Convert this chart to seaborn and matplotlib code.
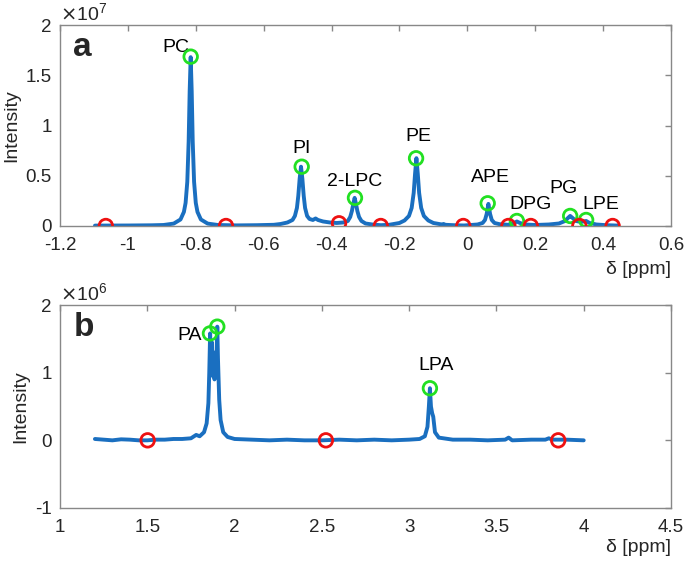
import numpy as np
import pandas as pd
import seaborn as sns
import matplotlib.pyplot as plt

sns.set_theme(style="white")
plt.rcParams['font.family'] = ['Liberation Sans', 'DejaVu Sans']

# panel a: spectrum, intensity in units of 1e7
shift_a = [-1.097, -1.0, -0.93, -0.895, -0.865, -0.845, -0.835, -0.83, -0.825, -0.821,
           -0.818, -0.815, -0.812, -0.809, -0.805, -0.80, -0.795, -0.785, -0.765, -0.735,
           -0.68, -0.62, -0.57, -0.55, -0.53, -0.515, -0.508, -0.502, -0.498, -0.494,
           -0.49, -0.486, -0.482, -0.478, -0.472, -0.465, -0.455, -0.447, -0.44, -0.425,
           -0.405, -0.385, -0.365, -0.352, -0.345, -0.34, -0.336, -0.332, -0.328, -0.324,
           -0.319, -0.312, -0.30, -0.28, -0.255, -0.23, -0.20, -0.185, -0.172, -0.164,
           -0.158, -0.154, -0.15, -0.146, -0.142, -0.136, -0.128, -0.115, -0.10, -0.075,
           -0.07, -0.065, -0.04, -0.01, 0.03, 0.045, 0.052, 0.057, 0.062, 0.067,
           0.072, 0.08, 0.095, 0.12, 0.135, 0.146, 0.155, 0.17, 0.20, 0.24,
           0.27, 0.288, 0.298, 0.303, 0.31, 0.32, 0.335, 0.35, 0.36, 0.38,
           0.41, 0.444]
int_a = [0.004, 0.005, 0.007, 0.01, 0.024, 0.065, 0.14, 0.23, 0.44, 0.84,
         1.34, 1.68, 1.34, 0.84, 0.44, 0.23, 0.14, 0.065, 0.024, 0.01,
         0.006, 0.008, 0.012, 0.02, 0.035, 0.06, 0.10, 0.18, 0.30, 0.47,
         0.59, 0.47, 0.30, 0.18, 0.10, 0.07, 0.06, 0.075, 0.06, 0.045,
         0.035, 0.03, 0.035, 0.05, 0.09, 0.15, 0.22, 0.28, 0.22, 0.15,
         0.09, 0.05, 0.025, 0.015, 0.008, 0.012, 0.03, 0.055, 0.10, 0.18,
         0.33, 0.52, 0.675, 0.52, 0.33, 0.18, 0.10, 0.055, 0.03, 0.015,
         0.02, 0.012, 0.008, 0.005, 0.015, 0.03, 0.06, 0.12, 0.22, 0.12,
         0.06, 0.03, 0.018, 0.012, 0.025, 0.045, 0.03, 0.015, 0.01, 0.015,
         0.025, 0.05, 0.085, 0.10, 0.08, 0.05, 0.04, 0.05, 0.03, 0.015,
         0.008, 0.004]
peaks_a = [-0.815, -0.488, -0.331, -0.151, 0.060, 0.146, 0.303, 0.350]
peak_int_a = [1.685, 0.59, 0.28, 0.674, 0.226, 0.05, 0.10, 0.06]
names_a = ['PC', 'PI', '2-LPC', 'PE', 'APE', 'DPG', 'PG', 'LPE']
lab_x_a = [-0.858, -0.487, -0.331, -0.145, 0.067, 0.185, 0.282, 0.394]
lab_y_a = [1.78, 0.776, 0.438, 0.886, 0.478, 0.209, 0.378, 0.209]
base_a = [-1.065, -0.711, -0.378, -0.255, -0.012, 0.121, 0.187, 0.330, 0.428]
base_int_a = [0.0, 0.0, 0.027, 0.0, 0.0, 0.0, 0.0, 0.0, 0.0]

# panel b: spectrum, intensity in units of 1e6
shift_b = [1.2, 1.25, 1.3, 1.35, 1.4, 1.45, 1.5, 1.55, 1.6, 1.65, 1.7, 1.75, 1.78,
           1.80, 1.825, 1.84, 1.85, 1.855, 1.86, 1.865, 1.87, 1.875, 1.88, 1.885, 1.89,
           1.895, 1.901, 1.905, 1.912, 1.92, 1.935, 1.96, 2.0, 2.1, 2.2, 2.3, 2.4,
           2.5, 2.6, 2.7, 2.8, 2.9, 3.0, 3.06, 3.09, 3.105, 3.113, 3.119, 3.125,
           3.132, 3.138, 3.148, 3.17, 3.25, 3.35, 3.45, 3.55, 3.57, 3.59, 3.7,
           3.78, 3.8, 3.82, 3.9, 4.0]
int_b = [0.02, 0.01, 0.0, 0.015, 0.01, 0.0, 0.0, 0.01, 0.01, 0.02, 0.02, 0.03, 0.08,
         0.06, 0.12, 0.25, 0.55, 1.0, 1.58, 1.1, 1.45, 0.95, 1.3, 0.9, 1.2,
         1.1, 1.68, 1.2, 0.6, 0.3, 0.12, 0.05, 0.02, 0.01, 0.0, 0.01, 0.0,
         0.0, 0.01, 0.0, 0.01, 0.0, 0.01, 0.02, 0.06, 0.2, 0.5, 0.77, 0.5,
         0.4, 0.35, 0.12, 0.04, 0.01, 0.01, 0.0, 0.01, 0.04, 0.0, 0.01,
         0.01, 0.03, 0.01, 0.01, 0.0]
peaks_b = [1.859, 1.901, 3.119]
peak_int_b = [1.58, 1.68, 0.77]
names_b = ['PA', 'LPA']
lab_x_b = [1.745, 3.157]
lab_y_b = [1.556, 1.11]
base_b = [1.502, 2.523, 3.854]
base_int_b = [0.0, 0.0, 0.0]

blue = '#1a6fc0'
green = '#22e022'
red = '#ee1111'
W, H = 685, 561
fig = plt.figure(figsize=(W / 100, H / 100), dpi=100)
ax_a = fig.add_axes([60 / W, 1 - 226 / H, 611 / W, 201 / H])
ax_b = fig.add_axes([60 / W, 1 - 508 / H, 611 / W, 203 / H])


def draw(ax, sx, sy, px, py, bx, by, names, lx, ly, xlim, ylim, xt, yt, letter, expo, dy):
    df = pd.DataFrame({'shift': sx, 'intensity': sy})
    sns.lineplot(data=df, x='shift', y='intensity', ax=ax, color=blue, lw=2.8,
                 sort=False, estimator=None)
    sns.scatterplot(x=px, y=py, ax=ax, marker='o', s=95, color=green,
                    facecolor='none', edgecolor=green, linewidth=2.0, zorder=4)
    sns.scatterplot(x=bx, y=by, ax=ax, marker='o', s=95, color=red,
                    facecolor='none', edgecolor=red, linewidth=2.0, zorder=4)
    for n, x, y in zip(names, lx, ly):
        ax.text(x, y, n, ha='center', va='center', fontsize=14, color='black')
    ax.set_xlim(*xlim)
    ax.set_ylim(*ylim)
    ax.set_xticks(xt)
    ax.set_yticks(yt)
    ax.set_xticklabels([f'{v:g}' for v in xt])
    ax.set_yticklabels([f'{v:g}' for v in yt])
    ax.set_xlabel('')
    ax.set_ylabel('Intensity', fontsize=14, labelpad=4)
    ax.tick_params(direction='in', top=True, right=True, length=4, width=1,
                   color='#888888', labelsize=13.5, pad=6)
    ax.tick_params(axis='x', pad=8)
    for s in ax.spines.values():
        s.set_color('#888888')
        s.set_linewidth(1.0)
    ax.text(0.022, 0.89, letter, transform=ax.transAxes, fontsize=24,
            fontweight='bold', ha='left', va='center')
    ax.text(0.0, 1.005, r'$\times\mathregular{10^{%d}}$' % expo, transform=ax.transAxes,
            fontsize=14, ha='left', va='bottom')
    ax.text(1.0, dy, 'δ [ppm]', transform=ax.transAxes, fontsize=14,
            ha='right', va='center')


draw(ax_a, shift_a, int_a, peaks_a, peak_int_a, base_a, base_int_a, names_a,
     lab_x_a, lab_y_a, (-1.2, 0.6), (0, 2),
     [-1.2, -1, -0.8, -0.6, -0.4, -0.2, 0, 0.2, 0.4, 0.6], [0, 0.5, 1, 1.5, 2], 'a', 7,
     -44 / 201)
draw(ax_b, shift_b, int_b, peaks_b, peak_int_b, base_b, base_int_b, names_b,
     lab_x_b, lab_y_b, (1, 4.5), (-1, 2),
     [1, 1.5, 2, 2.5, 3, 3.5, 4, 4.5], [-1, 0, 1, 2], 'b', 6, -40 / 203)

fig.savefig('out.png', dpi=100)
